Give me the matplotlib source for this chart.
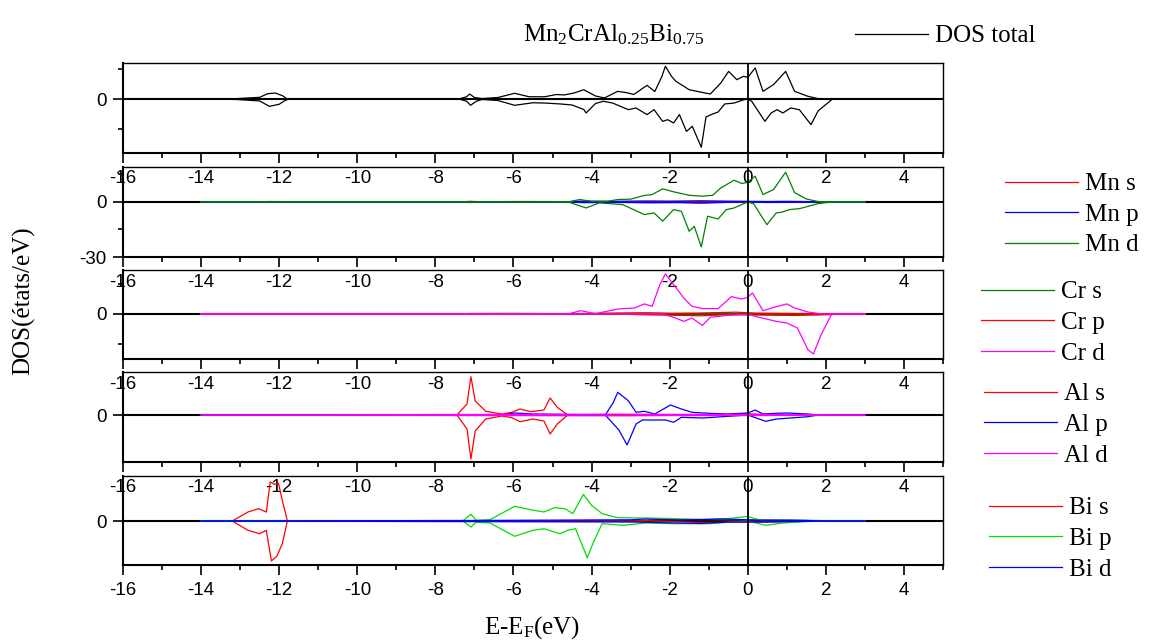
import matplotlib
matplotlib.use('Agg')
import matplotlib.pyplot as plt
from matplotlib.ticker import MultipleLocator

plt.rcParams['font.family'] = ['Liberation Serif', 'DejaVu Serif']
plt.rcParams['mathtext.default'] = 'regular'
plt.rcParams['axes.unicode_minus'] = False

##energy axis
xMin, xMax = -16, 5

##total DOS (spin up / spin down)
totUpE = [-14, -13.2, -13.07, -12.5, -12.3, -12.1, -11.9, -11.8, -7.4, -7.2, -7.12, -7.0, -6.8, -6.4, -5.97, -5.6, -5.2, -4.9, -4.7, -4.45, -4.2, -3.9, -3.67, -3.33, -3.1, -2.92, -2.58, -2.38, -2.2, -2.11, -1.95, -1.84, -1.5, -0.96, -0.69, -0.49, -0.28, -0.11, 0.0, 0.19, 0.39, 0.66, 0.97, 1.2, 1.54, 1.81, 2.2, 3]
totUp = [0, 0, 0.3, 1.1, 3.5, 4.0, 2.0, 0, 0, 1.5, 3.3, 1.0, 0.3, 1.0, 3.8, 1.5, 1.5, 3.0, 2.7, 4.0, 6.2, 2.0, 0.7, 5.1, 4.2, 3.0, 9.1, 5.0, 15.0, 21.8, 15.0, 11.8, 6.2, 3.3, 10.7, 18.4, 12.9, 15.1, 14.4, 20.7, 5.1, 9.6, 18.4, 5.1, 1.8, 0.2, 0, 0]
totDnE = [-14, -13.1, -12.5, -12.25, -12.0, -11.85, -11.75, -7.4, -7.2, -7.1, -6.95, -6.8, -6.4, -5.97, -5.5, -5.2, -4.8, -4.5, -4.2, -4.14, -3.9, -3.7, -3.46, -3.06, -2.86, -2.58, -2.4, -2.18, -2.05, -1.9, -1.75, -1.57, -1.42, -1.19, -1.07, -0.9, -0.76, -0.59, -0.35, -0.1, 0, 0.1, 0.44, 0.6, 0.75, 0.9, 1.1, 1.32, 1.62, 1.8, 2.17, 3]
totDn = [0, -0.3, -1.3, -4.9, -3.5, -1.0, 0, 0, -1.5, -4.2, -1.5, -0.3, -1.0, -4.2, -2.5, -2.7, -3.3, -4.0, -7.0, -9.3, -3.0, -1.5, -2.7, -7.1, -6.0, -10.4, -7.1, -14.9, -13.8, -16.0, -10.4, -21.6, -18.2, -32.2, -12.0, -10.0, -8.7, -3.3, -2.7, -0.5, 0, -1.5, -14.9, -9.3, -7.1, -9.3, -6.0, -7.1, -17.1, -8.0, 0, 0]

##Mn
mnSUpE = [-14, -12.5, -12.2, -11.8, -7.3, -7.1, -6.8, -5.9, -4.0, 3]
mnSUp = [0, 0, 0.2, 0, 0, 0.3, 0, 0.2, 0.1, 0]
mnSDnE = [-14, -12.5, -12.2, -11.8, -7.3, -7.1, -6.8, -5.9, -4.0, 3]
mnSDn = [0, 0, -0.2, 0, 0, -0.3, 0, -0.2, -0.1, 0]
mnPUpE = [-14, -4.6, -4.3, -3.5, -2.6, -2.0, -1.2, -0.5, 0, 0.5, 1.0, 1.8, 2.2, 3]
mnPUp = [0, 0, 0.4, 0.3, 0.5, 0.4, 0.6, 0.4, 0.3, 0.2, 0.3, 0.1, 0, 0]
mnPDnE = [-14, -4.6, -4.2, -3.2, -2.5, -1.8, -1.2, -0.6, 0, 0.5, 1.2, 2.0, 3]
mnPDn = [0, 0, -0.4, -0.3, -0.5, -0.4, -0.7, -0.3, 0, -0.3, -0.2, 0, 0]
mnDUpE = [-14, -4.6, -4.3, -4.0, -3.6, -3.33, -3.0, -2.65, -2.45, -2.18, -1.9, -1.5, -1.16, -0.9, -0.69, -0.35, -0.15, 0, 0.19, 0.39, 0.66, 0.97, 1.2, 1.5, 1.8, 2.2, 3]
mnDUp = [0, 0, 1.3, 0.3, 0.3, 1.3, 1.5, 3.5, 4.0, 7.1, 5.5, 3.6, 3.1, 3.6, 7.6, 11.8, 10.0, 10.7, 14.0, 4.0, 6.7, 16.2, 5.0, 1.6, 0.2, 0, 0]
mnDDnE = [-14, -4.6, -4.14, -3.8, -3.2, -2.65, -2.4, -2.18, -1.9, -1.7, -1.5, -1.37, -1.19, -1.03, -0.76, -0.55, -0.35, 0, 0.15, 0.49, 0.73, 0.87, 1.07, 1.34, 1.81, 2.15, 3]
mnDDn = [0, 0, -3.3, -0.5, -1.5, -6.9, -6.0, -10.5, -4.2, -5.1, -16.0, -13.3, -24.5, -7.8, -9.3, -4.2, -3.3, 0, -1.0, -12.4, -6.0, -5.6, -4.2, -3.6, -0.9, 0, 0]

##Cr
crSUpE = [-14, -7.3, -7.1, -6.0, -5.0, -2.6, -2.0, 0, 3]
crSUp = [0, 0, 0.3, 0.4, 0.2, 0.5, 0.2, 0.1, 0]
crSDnE = [-14, -7.3, -7.1, -6.0, -5.0, -2.6, -2.0, 0, 3]
crSDn = [0, 0, -0.2, -0.3, -0.1, -0.3, -0.1, 0, 0]
crPUpE = [-14, -4.5, -3.8, -2.6, -2.0, -1.3, -0.3, 0.2, 1.0, 2.0, 2.5, 3]
crPUp = [0, 0, 0.4, 0.8, 0.5, 0.6, 1.2, 0.6, 0.4, 0.2, 0, 0]
crPDnE = [-14, -3.5, -2.5, -1.2, -0.5, 0.5, 1.2, 2.0, 2.5, 3]
crPDn = [0, 0, -0.6, -1.2, -0.5, -0.8, -1.0, -0.5, 0, 0]
crDUpE = [-14, -4.6, -4.28, -3.9, -3.33, -2.9, -2.65, -2.45, -2.25, -2.11, -1.9, -1.64, -1.43, -1.16, -0.76, -0.55, -0.42, -0.28, -0.15, 0, 0.12, 0.39, 0.66, 1.0, 1.2, 1.54, 1.9, 3]
crDUp = [0, 0, 2.2, 0.2, 3.3, 4.0, 6.7, 5.1, 19.6, 26.7, 19.6, 10.7, 5.1, 3.6, 3.6, 8.4, 11.6, 10.7, 10.0, 11.1, 14.0, 2.2, 4.4, 6.7, 4.0, 1.3, 0, 0]
crDDnE = [-14, -2.2, -1.9, -1.64, -1.43, -1.16, -0.96, -0.5, 0, 0.19, 0.73, 1.0, 1.27, 1.54, 1.68, 1.88, 2.15, 3]
crDDn = [0, 0, -2.2, -4.9, -2.7, -7.6, -2.2, -0.9, 0, -1.6, -4.9, -6.0, -9.3, -23.8, -26.7, -13.8, 0, 0]

##Al
alSUpE = [-14, -7.45, -7.19, -7.09, -6.98, -6.71, -6.3, -6.04, -5.83, -5.56, -5.22, -5.06, -4.88, -4.61, -0.6, -0.3, 0.1, 0.6, 3]
alSUp = [0, 0, 1.1, 3.83, 1.4, 0.37, 0.1, 0.27, 0.6, 0.33, 0.5, 1.7, 0.77, 0, 0, 0.15, 0.1, 0, 0]
alSDnE = [-14, -7.45, -7.19, -7.09, -6.98, -6.71, -6.3, -6.04, -5.83, -5.5, -5.22, -5.06, -4.88, -4.61, 3]
alSDn = [0, 0, -1.4, -4.4, -1.6, -0.4, -0.1, -0.27, -0.67, -0.4, -0.6, -1.9, -0.9, 0, 0]
alPUpE = [-14, -6.3, -5.97, -5.5, -3.65, -3.45, -3.33, -3.06, -2.86, -2.65, -2.38, -1.98, -1.7, -1.43, -1.0, -0.5, 0, 0.19, 0.39, 0.73, 1.0, 1.54, 1.81, 3]
alPUp = [0, 0, 0.2, 0.1, 0, 1.2, 2.27, 1.43, 0.27, 0.37, 0.1, 1.0, 0.6, 0.27, 0.17, 0.1, 0.2, 0.5, 0.1, 0.17, 0.2, 0.1, 0, 0]
alPDnE = [-14, -3.65, -3.3, -3.09, -2.86, -2.7, -2.1, -1.9, -1.7, -1.16, -0.5, 0, 0.46, 0.73, 1.0, 1.54, 1.81, 3]
alPDn = [0, 0, -1.5, -3.0, -0.9, -0.5, -0.5, -0.73, -0.23, -0.3, -0.13, 0, -0.63, -0.4, -0.33, -0.17, 0, 0]
alDUpE = [-14, -7.1, -3.3, -2.0, 0.2, 3]
alDUp = [0, 0.05, 0.08, 0.06, 0.06, 0]
alDDnE = [-14, -7.1, -3.1, -2.0, 0.4, 3]
alDDn = [0, -0.05, -0.08, -0.05, -0.05, 0]

##Bi
biSUpE = [-14, -13.2, -12.8, -12.53, -12.33, -12.23, -12.12, -12.02, -11.92, -11.79, -2.8, -2.5, -1.5, 0, 1.0, 2.0, 3]
biSUp = [0, 0, 0.9, 1.23, 0.9, 3.9, 3.67, 3.8, 2.07, 0, 0, 0.1, 0.15, 0.1, 0.1, 0, 0]
biSDnE = [-14, -13.2, -12.8, -12.5, -12.33, -12.2, -12.06, -11.92, -11.79, -2.5, -1.2, 0.5, 2.0, 3]
biSDn = [0, 0, -0.93, -1.27, -0.93, -4.0, -3.53, -2.27, 0, 0, -0.15, -0.1, 0, 0]
biPUpE = [-14, -7.3, -7.09, -6.95, -6.6, -5.97, -5.56, -5.22, -4.95, -4.68, -4.48, -4.21, -4.0, -3.73, -3.33, -2.6, -2.0, -1.2, -0.5, 0, 0.3, 1.0, 1.8, 2.0, 3]
biPUp = [0, 0, 0.67, 0.07, 0.13, 1.47, 1.13, 0.9, 1.33, 1.23, 0.73, 2.67, 1.57, 0.73, 0.33, 0.3, 0.25, 0.15, 0.25, 0.45, 0.1, 0.1, 0.05, 0, 0]
biPDnE = [-14, -7.3, -7.09, -6.95, -6.6, -5.97, -5.5, -5.22, -4.81, -4.61, -4.41, -4.11, -3.95, -3.73, -3.2, -2.6, -1.9, -1.0, 0, 0.46, 0.9, 1.8, 3]
biPDn = [0, 0, -0.6, -0.13, -0.2, -1.53, -0.93, -0.77, -1.27, -0.93, -0.77, -3.67, -2.1, -0.27, -0.43, -0.2, -0.27, -0.27, 0, -0.43, -0.2, 0, 0]
biDUpE = [-14, -7.1, -3.0, -2.6, -1.8, -1.2, -0.6, -0.2, 0.3, 1.5, 2.0, 3]
biDUp = [0, 0.05, 0.12, 0.2, 0.1, 0.15, 0.2, 0.15, 0.08, 0.05, 0, 0]
biDDnE = [-14, -3.0, -2.4, -1.2, -0.5, 0.5, 2.0, 3]
biDDn = [0, -0.1, -0.15, -0.25, -0.1, -0.1, 0, 0]

##panel setup: (curves, legend labels, colours, ylim, major, minor)
panels = [
    ([(totUpE, totUp, totDnE, totDn)], ['DOS total'], ['black'], (-36, 24), 40, 20),
    ([(mnSUpE, mnSUp, mnSDnE, mnSDn), (mnPUpE, mnPUp, mnPDnE, mnPDn), (mnDUpE, mnDUp, mnDDnE, mnDDn)],
     ['Mn s', 'Mn p', 'Mn d'], ['red', 'blue', 'green'], (-30, 19), 30, 15),
    ([(crSUpE, crSUp, crSDnE, crSDn), (crPUpE, crPUp, crPDnE, crPDn), (crDUpE, crDUp, crDDnE, crDDn)],
     ['Cr s', 'Cr p', 'Cr d'], ['green', 'red', 'magenta'], (-30, 29.3), 40, 20),
    ([(alSUpE, alSUp, alSDnE, alSDn), (alPUpE, alPUp, alPDnE, alPDn), (alDUpE, alDUp, alDDnE, alDDn)],
     ['Al s', 'Al p', 'Al d'], ['red', 'blue', 'magenta'], (-4.7, 4.3), 10, None),
    ([(biSUpE, biSUp, biSDnE, biSDn), (biPUpE, biPUp, biPDnE, biPDn), (biDUpE, biDUp, biDDnE, biDDn)],
     ['Bi s', 'Bi p', 'Bi d'], ['red', '#00e000', 'blue'], (-4.4, 4.5), 10, None),
]

W, H = 1154, 643
fig = plt.figure(figsize=(W / 100, H / 100), dpi=100)

##panel pixel boxes (top, bottom) and legend anchors (x of line start, top)
boxes = [(63, 153), (167, 257), (270, 359), (372, 462), (476, 565)]
legAnchors = [(855, 25), (1005, 173), (981, 281), (984, 383), (989, 497)]

for i, (curves, labels, colors, ylim, major, minor) in enumerate(panels):
    top, bot = boxes[i]
    ax = fig.add_axes([123 / W, 1 - bot / H, 820 / W, (bot - top) / H])
    ax.set_facecolor('none')
    ax.axhline(0, color='black', lw=1.5, zorder=1)
    ax.axvline(0, color='black', lw=1.3, zorder=5)
    for (upE, up, dnE, dn), lbl, col in zip(curves, labels, colors):
        ax.plot(upE, up, color=col, lw=0.9, label=lbl, zorder=2)
        ax.plot(dnE, dn, color=col, lw=0.9, zorder=2)
    ax.set_xlim(xMin, xMax)
    ax.set_ylim(*ylim)
    ax.xaxis.set_major_locator(MultipleLocator(2))
    ax.xaxis.set_minor_locator(MultipleLocator(1))
    ax.yaxis.set_major_locator(MultipleLocator(major))
    if minor:
        ax.yaxis.set_minor_locator(MultipleLocator(minor))
    ax.tick_params(axis='both', which='major', direction='out', length=7, width=1.2, pad=5,
                   labelsize=13.5, labelfontfamily='Liberation Sans')
    ax.tick_params(axis='both', which='minor', direction='out', length=3.5, width=1.2)
    ax.tick_params(axis='y', which='both', right=False)
    ax.tick_params(axis='x', which='both', top=False)
    for sp in ax.spines.values():
        sp.set_linewidth(1.0)
    ax.spines['left'].set_linewidth(1.5)
    ax.spines['bottom'].set_linewidth(1.5)
    lx, ly = legAnchors[i]
    ax.legend(loc='upper left', bbox_to_anchor=(lx / W, 1 - ly / H), bbox_transform=fig.transFigure,
              frameon=False, fontsize=18, handlelength=2.9, handletextpad=0.3, labelspacing=0.32,
              borderpad=0, borderaxespad=0)

fig.text(614 / W, 1 - 35 / H, 'Mn$_2$CrAl$_{0.25}$Bi$_{0.75}$', ha='center', va='center', fontsize=18)
fig.text(532 / W, 1 - 628 / H, 'E-E$_F$(eV)', ha='center', va='center', fontsize=18)
fig.text(24 / W, 1 - 301 / H, 'DOS(états/eV)', ha='center', va='center', rotation=90, fontsize=18)

fig.savefig('out.png', dpi=100)
